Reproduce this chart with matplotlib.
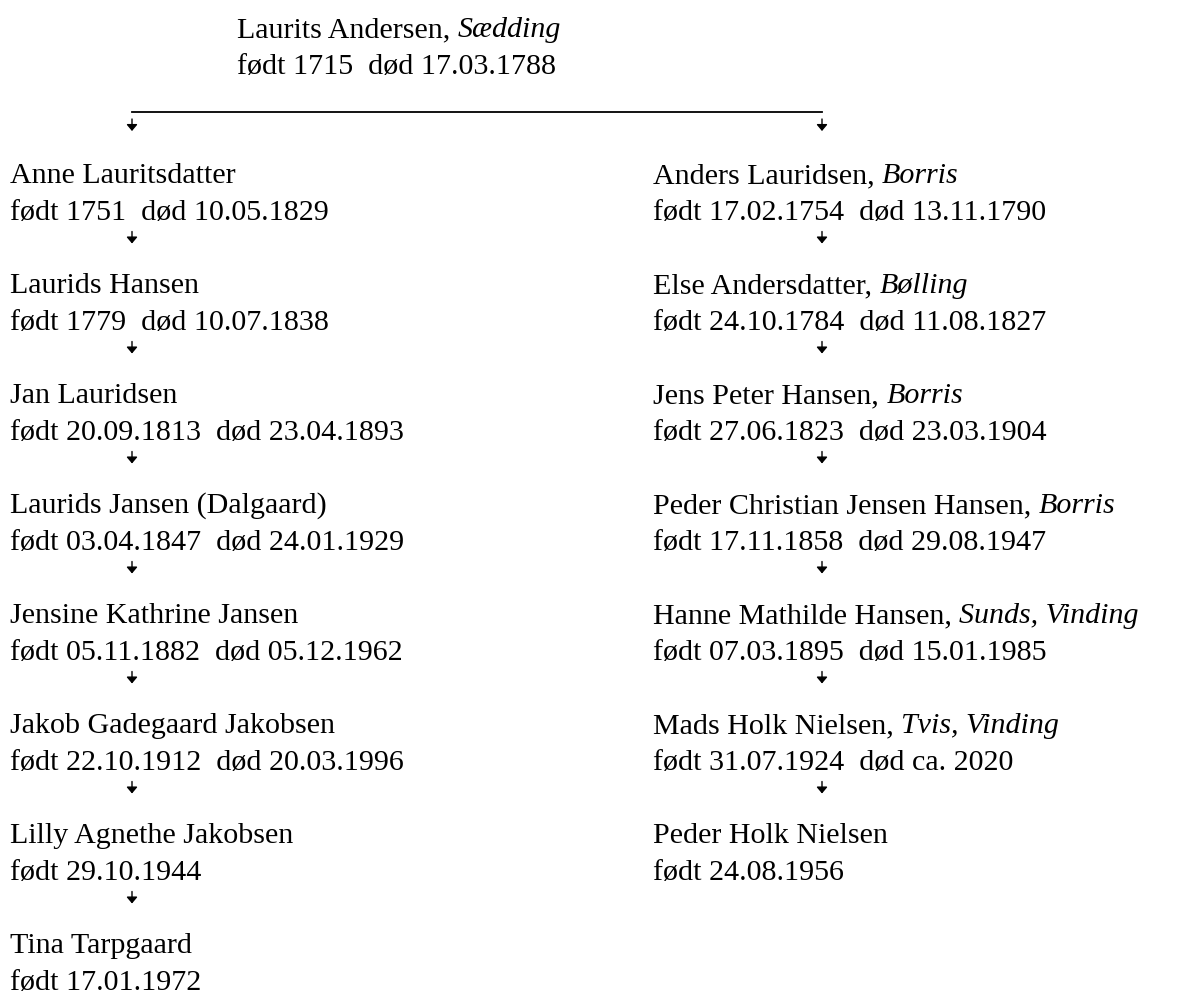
import matplotlib
matplotlib.use("Agg")
import matplotlib.pyplot as plt

FONT = "Liberation Serif"
SIZE = 21.6

top_name = "Laurits Andersen,"
top_place = "Sædding"
top_dates = "født 1715  død 17.03.1788"

left_names = [
    "Anne Lauritsdatter",
    "Laurids Hansen",
    "Jan Lauridsen",
    "Laurids Jansen (Dalgaard)",
    "Jensine Kathrine Jansen",
    "Jakob Gadegaard Jakobsen",
    "Lilly Agnethe Jakobsen",
    "Tina Tarpgaard",
]
left_places = [""] * 8
left_dates = [
    "født 1751  død 10.05.1829",
    "født 1779  død 10.07.1838",
    "født 20.09.1813  død 23.04.1893",
    "født 03.04.1847  død 24.01.1929",
    "født 05.11.1882  død 05.12.1962",
    "født 22.10.1912  død 20.03.1996",
    "født 29.10.1944",
    "født 17.01.1972",
]

right_names = [
    "Anders Lauridsen,",
    "Else Andersdatter,",
    "Jens Peter Hansen,",
    "Peder Christian Jensen Hansen,",
    "Hanne Mathilde Hansen,",
    "Mads Holk Nielsen,",
    "Peder Holk Nielsen",
]
right_places = ["Borris", "Bølling", "Borris", "Borris", "Sunds, Vinding", "Tvis, Vinding", ""]
right_dates = [
    "født 17.02.1754  død 13.11.1790",
    "født 24.10.1784  død 11.08.1827",
    "født 27.06.1823  død 23.03.1904",
    "født 17.11.1858  død 29.08.1947",
    "født 07.03.1895  død 15.01.1985",
    "født 31.07.1924  død ca. 2020",
    "født 24.08.1956",
]

W, H = 1177, 996
fig = plt.figure(figsize=(W / 100, H / 100), dpi=100)
ax = fig.add_axes([0, 0, 1, 1])
ax.set_xlim(0, W)
ax.set_ylim(H, 0)
ax.axis("off")
renderer = fig.canvas.get_renderer()


def person(x, y, name, place, dates):
    t = ax.text(x, y, name, fontsize=SIZE, family=FONT, va="baseline", ha="left")
    if place:
        bbox = t.get_window_extent(renderer=renderer)
        x_end = ax.transData.inverted().transform((bbox.x1, bbox.y0))[0]
        ax.text(x_end + SIZE * 0.35, y, place, fontsize=SIZE, family=FONT,
                style="italic", va="baseline", ha="left")
    ax.text(x, y + 36.5, dates, fontsize=SIZE, family=FONT, va="baseline", ha="left")


def arrow(x, y):
    # small downward arrow like the one in the word document
    ax.annotate("", xy=(x, y + 6), xytext=(x, y - 6),
                arrowprops=dict(arrowstyle="-|>,head_length=0.38,head_width=0.32",
                                mutation_scale=10, lw=1.0, color="black",
                                shrinkA=0, shrinkB=0))


person(237, 37, top_name, top_place, top_dates)
ax.plot([132, 822], [112, 112], color="black", lw=1.3)
arrow(132, 125)
arrow(822, 125)

first_row = 183
row_step = 110
for i, (n, p, d) in enumerate(zip(left_names, left_places, left_dates)):
    y = first_row + i * row_step
    person(10, y, n, p, d)
    if i < len(left_names) - 1:
        arrow(132, y + 54.5)

for i, (n, p, d) in enumerate(zip(right_names, right_places, right_dates)):
    y = first_row + i * row_step
    person(653, y, n, p, d)
    if i < len(right_names) - 1:
        arrow(822, y + 54.5)

fig.savefig("out.png", dpi=100, facecolor="white")
